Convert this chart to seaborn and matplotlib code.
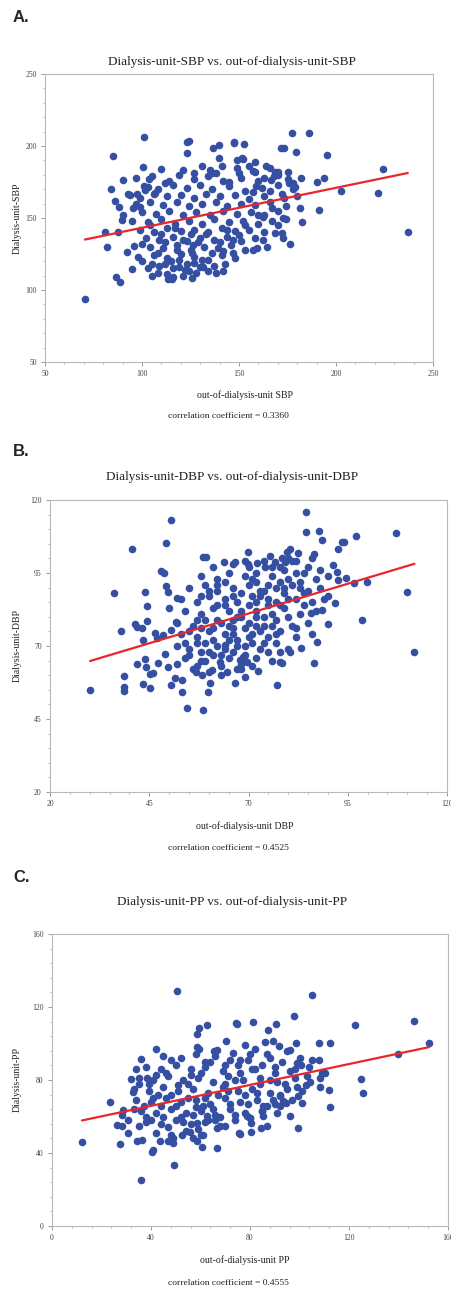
import matplotlib
matplotlib.use("Agg")
import matplotlib.pyplot as plt
from matplotlib.ticker import FixedLocator
import numpy as np
import pandas as pd
import seaborn as sns

# ---- panel A: SBP (sparse points + dense core) ----
sbp_out = [101.2, 85.2, 123, 124.2, 123, 136.7, 139.7, 147.6, 139.7, 100.7, 127, 135, 135.9,
           90, 103.8, 111.8, 92.9, 97.2, 101.5, 103.2, 106.7, 88, 95.5, 98.9, 90.4, 89.5,
           80.9, 87.8, 81.8, 92.4, 96, 94.7, 86.4, 88.6, 105, 113.5, 115.3, 141.6, 126.4,
           131.6, 70.6, 84, 86,
           177.5, 186.1, 147.6, 152.8, 171.5, 173.4, 179.4, 195.2, 151.4, 152.3, 224.1,
           157.4, 168.6, 170, 166.7, 182, 194, 190, 178, 178.9, 202.8, 221.9, 237, 181.5,
           191.3, 182.7, 172.9, 174.3, 176.3, 172, 172.9, 168.3, 162.2, 162.6, 164.3,
           157.4, 159.1, 146.8,
           110, 121, 131, 138, 149, 158, 166,
           97, 105, 114, 119, 127, 134, 142, 151, 160, 168, 175,
           101, 108, 116, 123, 130, 136, 145, 153, 162, 170, 178,
           94, 99, 106, 113, 120, 127, 133, 140, 148, 155, 163, 172,
           97, 104, 111, 118, 124, 131, 138, 144, 151, 158, 166, 174,
           100, 107, 114, 121, 128, 135, 142, 149, 156, 163, 170,
           95, 103, 110, 117, 124, 131, 137, 145, 152, 160, 167,
           99, 106, 113, 120, 127, 134, 141, 148, 155, 163,
           102, 109, 116, 123, 130, 137, 144, 151, 158,
           104, 111, 118, 125, 132, 139, 146, 153,
           106, 113, 120, 127, 134, 141, 148,
           109, 116, 123, 130, 137,
           113, 121, 128]
sbp_unit = [206.1, 193.1, 203, 203.7, 195, 198.4, 200.7, 202.4, 191.5, 185.2, 181, 183, 181,
            176.4, 177.1, 174.6, 166.7, 166.7, 169.5, 171.8, 167.2, 157.4, 156.8, 157.9, 152.1,
            148.6, 140.5, 140.5, 129.7, 126.2, 130.6, 114.6, 109.3, 105.8, 109.8, 107.4, 107.4,
            113.5, 131.3, 116.2, 93.7, 170, 162,
            209.3, 208.8, 202.6, 201.2, 198.4, 198.4, 196.1, 193.8, 191.5, 190.8, 184.3,
            182.9, 182.2, 179.9, 176.4, 177.6, 177.6, 174.8, 174.1, 171.8, 168.8, 167.2, 140.3,
            157, 155.6, 147.5, 149.8, 149.1, 132, 139.4, 135.9, 139.4, 150.5, 134.8, 130.1,
            127.8, 129, 126,
            184, 183, 186, 181, 185, 182, 185,
            178, 179, 176, 180, 177, 179, 176, 178, 176, 179, 177,
            172, 170, 173, 171, 173, 170, 172, 169, 171, 173, 170,
            166, 164, 167, 165, 166, 164, 167, 165, 166, 163, 165, 167,
            160, 161, 159, 161, 158, 160, 161, 158, 160, 159, 161, 158,
            154, 153, 155, 152, 154, 152, 155, 153, 154, 152, 155,
            148, 147, 149, 146, 148, 146, 149, 147, 148, 146, 148,
            142, 140, 143, 141, 142, 140, 143, 141, 142, 140,
            136, 135, 137, 134, 136, 135, 137, 134, 136,
            130, 129, 131, 128, 130, 129, 131, 128,
            124, 122, 125, 123, 121, 124, 122,
            117, 115, 118, 116, 117,
            111, 110, 112]
sbp_out_extra = [100, 105, 108, 112, 115, 118, 121, 124, 126, 129, 131, 133, 136, 138, 140,
                 143, 110, 104, 117, 125, 119, 127, 134, 142, 147, 150, 144,
                 145, 150, 155, 159, 163, 166, 170, 173, 176, 158, 164, 149, 141, 180, 175,
                 167, 160, 153, 170, 157,
                 108, 112, 116, 119, 122, 126, 103, 98, 100]
sbp_unit_extra = [120, 118, 126, 133, 120, 128, 135, 113, 126, 133, 121, 139, 126, 112, 133,
                  118, 139, 145, 143, 139, 116, 119, 113, 127, 135, 138, 142,
                  175, 181, 186, 172, 178, 169, 182, 164, 174, 189, 186, 190, 186, 165, 182,
                  157, 152, 145, 145, 168,
                  112, 118, 109, 121, 114, 108, 115, 123, 132]

# ---- panel B: DBP ----
dbp_out = [50.6, 49.2, 40.6, 58.6, 59.2, 63.8, 66.6, 47.9, 48.7, 36, 43.9, 49.2, 49.8, 51.9,
           44.5, 50.1, 37.9, 41.4, 42, 43.1, 44.5, 43.5, 46.4, 46.9, 48.5, 50.6, 51.7, 30.1,
           38.6, 38.6, 38.6, 41.8, 43.9, 44.2, 43.3, 45.2, 46, 45.2, 47.3, 49, 49.8, 50.6,
           51.5, 53.2, 53.2, 54.4, 58.6, 56.8, 58.2, 60.7, 60.3, 59.9, 64.5, 66.6, 64.1, 62.8,
           84.5, 87.7, 88.4, 93.5, 94.1, 97.1, 107.1, 69.9, 80.5, 79.6, 82.5, 86.6, 92.5,
           69.9, 72.1, 74.2, 75.4, 76.7, 78.4, 79.2, 79.9, 91.2, 92.4, 92.5, 94.5, 96.6, 99.8,
           109.8, 98.5, 111.8, 91.8, 89.9, 87.2, 88.6, 85.7, 86.6, 83.1, 80.5, 78.4, 77.9,
           77.3, 72.5, 69.1, 67.9, 68.7, 69.5, 84.6,
           66, 70, 74, 78,
           58, 62, 65, 69, 72, 76, 80, 84,
           55, 59, 62, 66, 70, 73, 77, 81, 85, 88,
           53, 57, 60, 64, 67, 71, 75, 78, 82, 86, 90,
           54, 58, 61, 65, 68, 72, 76, 79, 83, 87,
           52, 56, 59, 63, 66, 70, 74, 77, 81, 85,
           53, 57, 60, 64, 67, 71, 75, 78, 82, 86,
           52, 55, 59, 62, 66, 69, 73, 77, 80,
           54, 58, 61, 65, 68, 72, 76,
           56, 60, 63, 67, 71,
           60, 64, 68, 72, 75, 79, 83, 62, 66, 70, 74, 80, 84, 57, 61, 65, 69, 73, 77,
           63, 67, 71, 75, 58, 79, 82, 69, 61]
dbp_unit = [113.2, 105.4, 103.2, 100.6, 100.4, 98.9, 98.9, 95.8, 94.9, 88.3, 88.6, 90.6, 88.6,
            86.5, 83.7, 82.9, 75.2, 77.4, 76.6, 76, 78.7, 72, 74.3, 72.6, 73.8, 75.5, 78.3,
            54.9, 59.7, 56.1, 54.7, 63.7, 65.4, 62.9, 57, 60.3, 60.6, 55.5, 64.1, 67.3, 62.9,
            56.6, 58.9, 58.4, 54.4, 48.6, 48.1, 61.2, 60.1, 61.8, 57.2, 54.4, 61.2, 57.4,
            70.3, 64.6,
            109.2, 109.4, 106.3, 105.7, 105.7, 107.8, 108.8, 102.3, 103.2, 102.3, 101.7,
            101.5, 103.1, 98, 98.3, 97.2, 100.8, 98.9, 100, 98.9, 100, 97.7, 95.5, 92.6,
            93.2, 91.5, 92, 88.4, 78.9, 67.9, 84.8, 77.6, 71.3, 82.3, 81.4, 64.1, 69.4, 67.8,
            64.1, 64.6, 56.8, 61.5, 59.3, 65.2, 66.4, 64.6, 115.9,
            98, 97, 99, 97,
            94, 93, 95, 94, 92, 94, 93, 95,
            90, 91, 89, 90, 91, 89, 90, 91, 89, 90,
            86, 85, 87, 86, 85, 87, 86, 84, 86, 85, 87,
            82, 81, 83, 82, 80, 82, 81, 83, 81, 82,
            78, 77, 79, 78, 76, 78, 77, 79, 77, 78,
            74, 73, 75, 74, 72, 74, 73, 75, 73, 74,
            70, 69, 71, 70, 68, 70, 69, 71, 69,
            66, 65, 67, 66, 64, 66, 65,
            62, 61, 63, 62, 63,
            89, 92, 88, 85, 91, 88, 90, 84, 79, 84, 80, 80, 84, 79, 76, 72, 76, 75, 74,
            67, 70, 71, 68, 68, 96, 99, 99, 97]
dbp_out_extra = [52, 55, 57, 59, 61, 63, 64, 66, 68, 69, 55, 58, 62, 65, 67, 60, 54, 57, 70, 72,
                 72, 74, 76, 78, 80, 82, 84, 85, 87, 89, 73, 77, 81, 86, 83, 88, 71, 75, 79, 90,
                 64, 68, 72, 58, 62, 66, 74, 78, 82, 76]
dbp_unit_extra = [64, 67, 71, 65, 72, 60, 69, 74, 62, 67, 75, 76, 79, 77, 80, 68, 71, 63, 73, 77,
                  95, 89, 97, 92, 86, 95, 88, 97, 93, 86, 87, 85, 99, 100, 92, 96, 93, 84, 90, 94,
                  84, 82, 80, 87, 91, 87, 71, 68, 76, 77]

# ---- panel C: PP ----
pp_out = [50.4, 62.5, 59.5, 58.7, 74.3, 70.5, 58.7, 59.5, 66.5, 65.4, 42.1, 36, 34, 31.8,
          38.3, 35, 32.6, 23.5, 28.6, 28.2, 30.9, 26.2, 28.2, 30.6, 12.1, 27.5, 34.3, 36.3,
          40.3, 41, 43.7, 47, 49, 52.4, 55.8, 58.5, 61.1, 60.5, 66.5, 66.5, 58.5, 62.5, 73.9,
          75.5,
          105.2, 97.8, 74.6, 81.3, 90.4, 87.1, 122.4, 146.2, 89.1, 91.8, 98.5, 107.8, 112.5,
          96.1, 152.3, 139.8, 105.2, 107.9, 98.8, 100.8, 108.9, 110.2, 108.2, 104.2, 102.8,
          108.2, 111.8, 125, 125.7, 112.5, 101.2, 99.2, 96.1, 99.2, 78.6, 80.6, 80, 75.9,
          80.6, 84.4, 86.7, 85.3, 92.1, 94.7, 92.1, 93.4, 89.4, 85.3, 84.7, 36, 49.3,
          45, 52, 58, 66, 72, 80, 88,
          38, 44, 50, 56, 62, 69, 75, 82, 90, 96,
          35, 41, 47, 53, 59, 65, 71, 77, 84, 91, 98,
          33, 39, 45, 51, 57, 63, 69, 75, 81, 88, 95, 101,
          34, 40, 46, 52, 58, 64, 70, 76, 83, 90, 97,
          36, 42, 48, 54, 60, 66, 72, 78, 85,
          38, 44, 50, 56, 62, 68, 74,
          42, 48, 54, 60,
          48, 62, 76, 42, 56, 70, 84, 48, 62, 78, 92, 44, 58, 72, 52, 66, 80, 38]
pp_unit = [128.6, 110.3, 108.5, 105.4, 111.2, 101.5, 98.1, 97, 96.2, 95.7, 97, 91.5, 86, 80.5,
           81.1, 78, 73.4, 67.7, 63.7, 61, 58.3, 55.5, 54.6, 51, 45.8, 44.9, 46.4, 47.3, 40.4,
           41.5, 46.4, 46.4, 45.5, 50, 51.3, 46.4, 50, 43.3, 42.7, 53.7, 56.4, 60.1, 61, 51,
           126.7, 114.9, 110.9, 111.8, 110.6, 107.6, 110.1, 112.5, 101.2, 98.8, 100.2, 100.1,
           100.4, 96.6, 100.2, 94.2, 91.1, 91.1, 89.3, 88.4, 83.8, 83.8, 81.1, 78.7, 77.4,
           76.1, 74.3, 80.5, 72.7, 65, 67.4, 71.4, 60.1, 53.7, 60.4, 56.4, 59.2, 50.4, 51.5,
           53.7, 54.6, 60.1, 65.6, 67.4, 71.9, 68.3, 69.2, 65.6, 62.8, 25.4, 33.2,
           93, 92, 94, 93, 91, 94, 92,
           87, 86, 88, 86, 87, 85, 88, 86, 87, 85,
           81, 80, 82, 80, 81, 79, 82, 80, 81, 79, 81,
           75, 74, 76, 74, 75, 73, 76, 74, 75, 73, 75, 74,
           69, 68, 70, 68, 69, 67, 70, 68, 69, 67, 69,
           63, 62, 64, 62, 63, 61, 64, 62, 63,
           57, 56, 58, 56, 57, 55, 58,
           51, 50, 52, 50,
           91, 90, 91, 83, 83, 78, 78, 72, 70, 72, 71, 66, 65, 67, 60, 58, 59, 60]
pp_out_extra = [35, 37, 40, 43, 45, 47, 50, 53, 55, 57, 59, 61, 63, 65, 68, 70, 39, 46, 33, 41,
                51, 49, 57,
                70, 73, 76, 79, 82, 85, 87, 90, 93, 95, 98, 100, 103, 78, 86, 94, 99, 104, 88,
                81, 74,
                55, 60, 64, 67, 71, 79, 83, 87, 91]
pp_unit_extra = [55, 66, 58, 72, 60, 54, 66, 57, 70, 61, 53, 66, 58, 64, 60, 55, 78, 84, 64, 70,
                 77, 48, 48,
                 88, 95, 84, 91, 97, 88, 94, 84, 90, 96, 86, 92, 82, 99, 101, 78, 76, 87, 80,
                 86, 80,
                 78, 84, 90, 72, 74, 67, 73, 66, 62]

panels = [
    dict(tag="A.", x=sbp_out + sbp_out_extra, y=sbp_unit + sbp_unit_extra,
         title="Dialysis-unit-SBP vs. out-of-dialysis-unit-SBP",
         xlabel="out-of-dialysis-unit SBP", ylabel="Dialysis-unit-SBP",
         corr="correlation coefficient = 0.3360",
         lim=(50, 250), step=50,
         box=(45, 74, 433, 362), tag_y=17, title_y=62, xl_y=395, corr_y=416),
    dict(tag="B.", x=dbp_out + dbp_out_extra, y=dbp_unit + dbp_unit_extra,
         title="Dialysis-unit-DBP vs. out-of-dialysis-unit-DBP",
         xlabel="out-of-dialysis-unit DBP", ylabel="Dialysis-unit-DBP",
         corr="correlation coefficient = 0.4525",
         lim=(20, 120), step=25,
         box=(50, 500, 447, 792), tag_y=452, title_y=477, xl_y=826, corr_y=848),
    dict(tag="C.", x=pp_out + pp_out_extra, y=pp_unit + pp_unit_extra,
         title="Dialysis-unit-PP vs. out-of-dialysis-unit-PP",
         xlabel="out-of-dialysis-unit PP", ylabel="Dialysis-unit-PP",
         corr="correlation coefficient = 0.4555",
         lim=(0, 160), step=40,
         box=(52, 934, 448, 1226), tag_y=877, title_y=902, xl_y=1260, corr_y=1283),
]

W, H = 451, 1292
sns.set_theme(style="white")
plt.rcParams['font.family'] = ['Liberation Serif', 'DejaVu Serif']
fig = plt.figure(figsize=(W / 100, H / 100), dpi=100)

dot = "#3550a3"
frame = "#b8b8b8"

for p in panels:
    l, t, r, b = p["box"]
    ax = fig.add_axes([l / W, 1 - b / H, (r - l) / W, (b - t) / H])
    df = pd.DataFrame({"out": p["x"], "unit": p["y"]})
    sns.regplot(data=df, x="out", y="unit", ax=ax, ci=None,
                scatter_kws=dict(s=30, color=dot, linewidths=0, alpha=1),
                line_kws=dict(color="#e8262b", lw=1.6))
    lo, hi = p["lim"]
    ax.set_xlim(lo, hi)
    ax.set_ylim(lo, hi)
    major = np.arange(lo, hi + 1, p["step"])
    minor = np.arange(lo, hi + 0.01, p["step"] / 5)
    for axis in (ax.xaxis, ax.yaxis):
        axis.set_major_locator(FixedLocator(major))
        axis.set_minor_locator(FixedLocator(minor))
    ax.tick_params(which="major", length=3, width=0.6, color="#888888",
                   labelsize=5.5, labelcolor="#444444", pad=3,
                   bottom=True, left=True)
    ax.tick_params(which="minor", length=1.6, width=0.5, color="#999999",
                   bottom=True, left=True)
    for s in ax.spines.values():
        s.set_color(frame)
        s.set_linewidth(0.8)
    ax.set_xlabel("")
    ax.set_ylabel("")

    fig.text(13 / W, 1 - p["tag_y"] / H, p["tag"], family="Liberation Sans",
             weight="bold", fontsize=12, ha="left", va="center")
    fig.text(232 / W, 1 - p["title_y"] / H, p["title"], fontsize=9.5,
             ha="center", va="center", color="#222222")
    fig.text(245 / W, 1 - p["xl_y"] / H, p["xlabel"], fontsize=7,
             ha="center", va="center", color="#222222")
    fig.text(228 / W, 1 - p["corr_y"] / H, p["corr"], fontsize=6.8,
             ha="center", va="center", color="#222222")
    fig.text(17 / W, 1 - (t + b) / 2 / H, p["ylabel"], fontsize=7, rotation=90,
             ha="center", va="center", color="#222222")

fig.savefig("out.png", dpi=100)
